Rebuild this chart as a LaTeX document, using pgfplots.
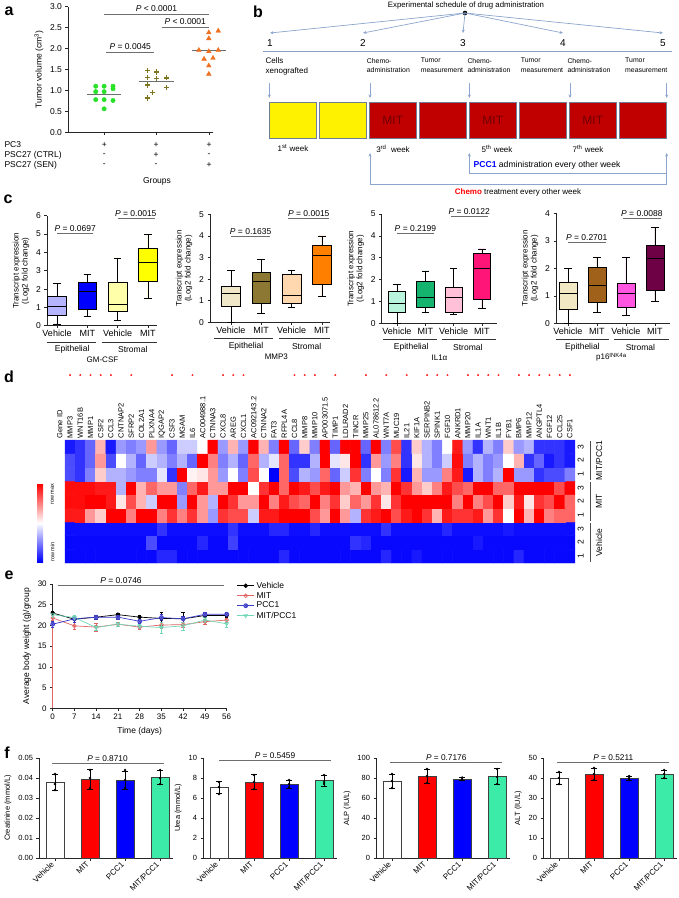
\documentclass[border=0pt]{standalone}
\usepackage{fontspec}
\setmainfont{Liberation Sans}
\usepackage{pgfplots}
\pgfplotsset{compat=1.18}
\usepackage{pgfplotstable}
\usepgfplotslibrary{statistics}
\usetikzlibrary{arrows.meta,plotmarks}

\newcommand{\fs}[2]{\fontsize{#1}{#2}\selectfont}

\definecolor{agreen}{RGB}{40,225,40}
\definecolor{aolive}{RGB}{125,118,30}
\definecolor{aorange}{RGB}{238,112,32}
\definecolor{meanc}{RGB}{110,110,110}
\definecolor{c11}{RGB}{180,180,255}
\definecolor{c12}{RGB}{0,0,255}
\definecolor{c13}{RGB}{255,255,170}
\definecolor{c14}{RGB}{255,255,0}
\definecolor{c21}{RGB}{240,230,200}
\definecolor{c22}{RGB}{140,120,50}
\definecolor{c23}{RGB}{255,216,176}
\definecolor{c24}{RGB}{255,128,0}
\definecolor{c31}{RGB}{184,245,220}
\definecolor{c32}{RGB}{20,180,110}
\definecolor{c33}{RGB}{255,192,216}
\definecolor{c34}{RGB}{255,20,120}
\definecolor{c41}{RGB}{242,232,196}
\definecolor{c42}{RGB}{160,98,26}
\definecolor{c43}{RGB}{255,85,224}
\definecolor{c44}{RGB}{110,0,70}
\definecolor{arrowc}{RGB}{140,165,205}
\definecolor{boxedge}{RGB}{110,125,150}
\definecolor{dred}{RGB}{192,0,0}
\definecolor{mitred}{RGB}{112,0,0}
\definecolor{emit}{RGB}{224,102,102}
\definecolor{epcc}{RGB}{59,59,200}
\definecolor{emp}{RGB}{112,216,184}
\definecolor{aqua}{RGB}{60,235,168}

\pgfplotsset{
  colormap={bwr}{rgb255=(0,0,255) rgb255=(255,255,255) rgb255=(255,0,0)},
  base/.style={scale only axis, anchor=south west, axis x line*=bottom, axis y line*=left, clip=false,
    axis line style={black!85, line width=0.6pt}, tick style={black!85, line width=0.6pt},
    tick align=outside, major tick length=2.5pt,
    tick label style={font=\fs{8.5}{10}}, label style={font=\fs{8.5}{10}},
    /pgf/number format/assume math mode=true, scaled ticks=false},
  cax/.style={base, ymin=0, xtick={1,2,3,4}, xticklabels={Vehicle,MIT,Vehicle,MIT},
    xticklabel style={font=\fs{9}{10}, inner sep=2pt},
    ylabel={Transcript expression\\(Log2 fold change)}, ylabel style={align=center, font=\fs{8}{9}}},
  bp/.style={draw=black, line width=0.6pt, solid, boxplot/draw direction=y, boxplot/box extend=0.62, boxplot/whisker extend=0.25},
  fax/.style={base, height=100pt, width=134pt, xmin=0.543, xmax=4.37, ymin=0, xtick={1,2,3,4},
    xticklabels={Vehicle,MIT,PCC1,MIT/PCC1}, xticklabel style={rotate=45, anchor=east, font=\fs{8}{9}},
    yticklabel style={font=\fs{7.5}{8}}, ylabel style={font=\fs{7.5}{9}}},
  fbar/.style={ybar, bar width=18pt, bar shift=0pt, draw=black!75, line width=0.6pt,
    /pgfplots/error bars/y dir=both, /pgfplots/error bars/y explicit,
    /pgfplots/error bars/error bar style={black, line width=0.7pt},
    /pgfplots/error bars/error mark options={rotate=90, mark size=3pt, line width=0.7pt, black}},
  pts/.style={only marks, mark=*, mark size=1pt, black},
  pbar/.style={meanc, line width=0.7pt, no marks},
  eerr/.style={/pgfplots/error bars/y dir=both, /pgfplots/error bars/y explicit,
    /pgfplots/error bars/error mark options={rotate=90, mark size=1.8pt}},
}

% heatmap values, row by row: Vehicle 1,2,3 ; MIT 1,2,3 ; MIT/PCC1 1,2,3 (bottom to top), 50 genes each
\pgfplotstableread[row sep=\\]{c\\
-0.97\\-0.97\\-0.97\\-0.97\\-0.97\\-0.97\\-0.97\\-0.97\\-0.97\\-0.85\\
-0.85\\-0.97\\-0.97\\-0.97\\-0.97\\-0.97\\-0.97\\-0.97\\-0.97\\-0.97\\
-0.97\\-0.85\\-0.97\\-0.97\\-0.97\\-0.97\\-0.97\\-0.97\\-0.97\\-0.97\\
-0.97\\-0.85\\-0.97\\-0.97\\-0.9\\-0.97\\-0.97\\-0.97\\-0.97\\-0.97\\
-0.97\\-0.97\\-0.97\\-0.97\\-0.85\\-0.97\\-0.97\\-0.97\\-0.97\\-0.97\\
-0.97\\-0.97\\-0.97\\-0.97\\-0.97\\-0.97\\-0.97\\-0.97\\-0.7\\-0.97\\
-0.97\\-0.97\\-0.97\\-0.85\\-0.97\\-0.97\\-0.75\\-0.97\\-0.97\\-0.97\\
-0.97\\-0.97\\-0.97\\-0.97\\-0.97\\-0.97\\-0.97\\-0.97\\-0.8\\-0.85\\
-0.97\\-0.97\\-0.97\\-0.97\\-0.97\\-0.97\\-0.97\\-0.97\\-0.97\\-0.97\\
-0.9\\-0.97\\-0.97\\-0.97\\-0.97\\-0.97\\-0.97\\-0.97\\-0.97\\-0.97\\
-0.95\\-0.95\\-0.95\\-0.95\\-0.95\\-0.95\\-0.95\\-0.95\\-0.95\\-0.8\\
-0.95\\-0.95\\-0.95\\-0.95\\-0.95\\-0.95\\-0.8\\-0.95\\-0.95\\-0.95\\
-0.85\\-0.85\\-0.95\\-0.95\\-0.85\\-0.95\\-0.95\\-0.95\\-0.95\\-0.95\\
-0.95\\-0.8\\-0.95\\-0.95\\-0.95\\-0.95\\-0.95\\-0.85\\-0.95\\-0.95\\
-0.95\\-0.95\\-0.95\\-0.9\\-0.95\\-0.95\\-0.95\\-0.95\\-0.95\\-0.95\\
0.9\\0.9\\0.4\\0.2\\1\\1\\0.5\\1\\1\\0.5\\
0.8\\0.5\\0.8\\0.4\\-0.4\\0.8\\0.7\\0.7\\-0.2\\0.9\\
0.9\\1\\1\\1\\0.7\\0.4\\1\\0.4\\-0.3\\0.8\\
0.9\\1\\0.7\\0.9\\1\\0.8\\0.3\\0.9\\0.8\\0.8\\
0.9\\0.4\\0.8\\0.0\\1\\0.3\\1\\0.5\\0.6\\0.6\\
0.95\\0.95\\1\\1\\0.9\\0.1\\0.7\\0.3\\-0.2\\1\\
1\\-0.4\\1\\0.4\\-0.3\\1\\0.8\\0.4\\0.4\\1\\
0.5\\0.9\\0.7\\0.6\\1\\0.5\\0.8\\0.2\\0.6\\0.4\\
0.8\\0.1\\0.8\\1\\1\\1\\1\\1\\0.5\\1\\
0.5\\0.7\\1\\0.2\\0.9\\0.1\\0.8\\0.7\\1\\0.6\\
0.95\\0.95\\0.95\\0.9\\0.9\\-0.3\\1\\0.3\\0.6\\0.4\\
0.4\\-0.5\\0.6\\0.9\\0.4\\0.4\\1\\1\\0.0\\0.8\\
1\\0.6\\1\\0.9\\0.7\\0.9\\1\\0.4\\0.3\\1\\
0.4\\0.3\\1\\0.8\\0.4\\0.2\\0.5\\0.9\\0.7\\0.6\\
1\\1\\0.6\\0.6\\1\\1\\1\\1\\0.7\\1\\
-0.7\\-0.8\\-0.5\\0.2\\-0.3\\-0.3\\-0.4\\-0.5\\-0.5\\-0.1\\
-0.8\\1\\0.05\\0.1\\0.4\\-0.4\\0.0\\-0.5\\0.7\\0.0\\
-1\\0.6\\-0.7\\-0.3\\-0.4\\0.6\\-0.6\\-0.2\\0.8\\-0.5\\
0.0\\-0.5\\0.8\\-0.9\\0.3\\-0.4\\-0.4\\0.5\\0.9\\-0.9\\
-0.3\\-0.5\\-0.3\\1\\-0.4\\-0.4\\-0.8\\-0.7\\-0.7\\-0.5\\
-0.7\\-0.8\\-0.6\\0.4\\-0.7\\0.0\\-0.3\\-0.6\\-0.2\\-0.3\\
-0.5\\-0.3\\-0.6\\1\\0.5\\-0.5\\-0.3\\-0.6\\0.6\\-0.3\\
-0.1\\0.6\\-0.8\\-0.8\\-0.3\\1\\-0.1\\0.1\\1\\-0.8\\
0.4\\-0.4\\0.5\\-0.8\\0.1\\-0.3\\-0.5\\-0.2\\0.95\\-0.5\\
-0.3\\-0.5\\-0.4\\0.0\\0.3\\-0.8\\-0.6\\-0.9\\-0.8\\-0.9\\
-0.9\\-0.8\\-0.6\\0.3\\-0.9\\-0.4\\-0.5\\-0.4\\0.4\\-0.4\\
-0.6\\-0.2\\-0.2\\0.0\\1\\-0.4\\0.3\\-0.4\\1\\0.3\\
-0.5\\1\\-0.6\\0.2\\-0.5\\1\\-0.6\\1\\1\\-0.6\\
1\\-0.5\\0.7\\-0.8\\0.2\\-0.3\\-0.5\\0.0\\0.9\\-0.4\\
-0.8\\-0.3\\-0.5\\0.2\\-0.4\\-0.3\\-0.8\\-0.8\\-0.8\\-0.9\\
}\heat
% row / column position of each cell (gene index 0..49, sample row 0..8)
\pgfplotstablecreatecol[create col/assign/.code={%
  \edef\entry{\the\numexpr(2*\pgfplotstablerow-49)/100\relax}%
  \pgfkeyslet{/pgfplots/table/create col/next content}\entry}]{yy}{\heat}
\pgfplotstablecreatecol[create col/assign/.code={%
  \edef\entry{\the\numexpr\pgfplotstablerow-50*((2*\pgfplotstablerow-49)/100)\relax}%
  \pgfkeyslet{/pgfplots/table/create col/next content}\entry}]{xx}{\heat}

\begin{document}
\begin{tikzpicture}
\useasboundingbox (0,0) rectangle (679pt,-898pt);

% ---------------- labels, schematic, annotations (px coordinates, y downward)
\begin{scope}[x=1pt,y=-1pt]
\node[font=\fs{16}{18}\bfseries] at (9,11) {a};
\node[font=\fs{16}{18}\bfseries] at (258,12) {b};
\node[font=\fs{16}{18}\bfseries] at (8,199) {c};
\node[font=\fs{16}{18}\bfseries] at (9,377) {d};
\node[font=\fs{16}{18}\bfseries] at (9,575) {e};
\node[font=\fs{16}{18}\bfseries] at (7,753) {f};

% panel a row labels
\node[anchor=west, font=\fs{8.5}{10}] at (1,145) {PC3};
\node[anchor=west, font=\fs{8.5}{10}] at (1,155.3) {PSC27 (CTRL)};
\node[anchor=west, font=\fs{8.5}{10}] at (1,165.5) {PSC27 (SEN)};
\foreach \xx/\sa/\sb/\sc in {104.3/+/-/-, 156/+/+/-, 209/+/-/+}{
  \node[font=\fs{8.5}{10}] at (\xx,145) {\sa};
  \node[font=\fs{8.5}{10}] at (\xx,155.3) {\sb};
  \node[font=\fs{8.5}{10}] at (\xx,165.5) {\sc};
}
\node[font=\fs{8.5}{10}] at (157,181) {Groups};

% panel b schematic
\node[font=\fs{7.8}{9}] at (466,5) {Experimental schedule of drug administration};
\fill (465,13) circle (2.3pt);
\foreach \xx in {270,363,463,563,663}
  \draw[arrowc, line width=0.7pt, -{Stealth[length=3.5pt,width=3pt]}] (465,13) -- (\xx,33);
\foreach \xx/\n in {270/1,363/2,463/3,563/4,663/5}
  \node[font=\fs{10}{11}] at (\xx,43.5) {\n};
\draw[arrowc!80!gray, line width=0.8pt] (263,51) -- (672,51);
\node[anchor=north west, align=left, font=\fs{8}{10}, inner sep=0pt] at (265.5,57) {Cells\\xenografted};
\foreach \xx/\ta/\tb in {366.7/Chemo-/administration, 420.7/Tumor/measurement, 467.3/Chemo-/administration,
                         520.7/Tumor/measurement, 567.3/Chemo-/administration, 625/Tumor/measurement}
  \node[anchor=north west, align=left, font=\fs{6.9}{9.5}, inner sep=0pt] at (\xx,58) {\ta\\\tb};
\foreach \xx in {269.3,370,469.3,570,666.7}
  \draw[arrowc, line width=0.7pt, -{Stealth[length=3.5pt,width=3pt]}] (\xx,83) -- (\xx,98);
\foreach \xx in {269.3,319.3}
  \draw[boxedge, line width=0.8pt, fill=yellow] (\xx,102) rectangle ++(47,36);
\foreach \xx in {369.3,419.3,469.3,519.3,569.3,619.3}
  \draw[boxedge, line width=0.8pt, fill=dred] (\xx,102) rectangle ++(47,36);
\foreach \xx in {392.8,492.8,592.8}
  \node[font=\fs{12}{13}, text=mitred] at (\xx,120) {MIT};
\node[font=\fs{8}{9}] at (293,148.5) {1\textsuperscript{st} week};
\node[font=\fs{8}{9}] at (393,148.5) {3\textsuperscript{rd}\ \ week};
\node[font=\fs{8}{9}] at (497,148.5) {5\textsuperscript{th} week};
\node[font=\fs{8}{9}] at (588,148.5) {7\textsuperscript{th} week};
\draw[arrowc, line width=0.7pt, -{Stealth[length=3.5pt,width=3pt]}] (469.3,173) -- (469.3,153);
\draw[arrowc, line width=0.7pt, -{Stealth[length=3.5pt,width=3pt]}] (666.7,184) -- (666.7,153);
\draw[arrowc, line width=0.7pt] (469.3,173) -- (666.7,173);
\draw[arrowc, line width=0.7pt, -{Stealth[length=3.5pt,width=3pt]}] (370,184) -- (370,153);
\draw[arrowc, line width=0.7pt] (370,184) -- (666.7,184);
\node[font=\fs{8.6}{10}] at (547,165) {{\color{blue}\bfseries PCC1} administration every other week};
\node[font=\fs{8}{9}] at (518,192.5) {{\color{red}\bfseries Chemo} treatment every other week};

% panel d colour key
\shade[top color=red, bottom color=blue, middle color=white] (37,484) rectangle (43,562);
\node[rotate=90, font=\fs{5.5}{6}] at (52.5,494) {row max};
\node[rotate=90, font=\fs{5.5}{6}] at (52.5,552) {row min};
\end{scope}

% ---------------- panel a
\begin{axis}[base, at={(68pt,-132.3pt)}, width=145pt, height=125.7pt,
  xmin=0.31, xmax=3.08, ymin=0, ymax=3, xtick={1,2,3}, xticklabels={},
  ytick={0,0.5,1,1.5,2,2.5,3},
  yticklabel style={/pgf/number format/fixed, /pgf/number format/fixed zerofill, /pgf/number format/precision=1},
  ylabel={Tumor volume (cm\textsuperscript{3})}]
\addplot[only marks, mark=*, mark size=2.2pt, color=agreen] coordinates {
  (0.84,1.10) (1,1.10) (1.17,1.10) (1.17,1.04) (0.84,0.97) (1,0.97) (0.84,0.78) (1,0.78) (1.17,0.76) (1,0.56)};
\addplot[only marks, mark=+, mark size=2.6pt, line width=1.5pt, color=aolive] coordinates {
  (1.83,1.47) (2,1.44) (1.83,1.31) (2.19,1.30) (2,1.29) (1.83,1.13) (2.19,1.07) (1.92,0.95) (1.83,0.82)};
\addplot[only marks, mark=triangle*, mark size=2.7pt, color=aorange] coordinates {
  (3,2.38) (3.18,2.42) (3,2.24) (2.81,1.96) (3,1.93) (3.18,1.96) (2.91,1.75) (3.08,1.77) (3,1.59) (3,1.39)};
\addplot[meanc, line width=0.9pt, no marks] coordinates {(0.67,0.91) (1.33,0.91)};
\addplot[meanc, line width=0.9pt, no marks] coordinates {(1.67,1.21) (2.33,1.21)};
\addplot[meanc, line width=0.9pt, no marks] coordinates {(2.67,1.95) (3.33,1.95)};
\addplot[pbar] coordinates {(1,2.82) (3,2.82)};
\addplot[pbar] coordinates {(2.1,2.51) (3,2.51)};
\addplot[pbar] coordinates {(1.04,1.91) (1.96,1.91)};
\node[anchor=south, inner sep=2pt, font=\fs{8.5}{10}] at (axis cs:2,2.82) {\textit{P} < 0.0001};
\node[anchor=south, inner sep=2pt, font=\fs{8.5}{10}] at (axis cs:2.55,2.51) {\textit{P} < 0.0001};
\node[anchor=south, inner sep=2pt, font=\fs{8.5}{10}] at (axis cs:1.5,1.91) {\textit{P} = 0.0045};
\end{axis}

% ---------------- panel c (1) GM-CSF
\begin{axis}[cax, at={(47pt,-325.7pt)}, width=110pt, height=110pt, xmin=0.67, xmax=4.3, ymax=6, ytick={0,1,2,3,4,5,6}]
\addplot[bp, fill=c11, boxplot prepared={draw position=1, lower whisker=0.1, lower quartile=0.58, median=1.05, upper quartile=1.6, upper whisker=2.3}] coordinates {};
\addplot[bp, fill=c12, boxplot prepared={draw position=2, lower whisker=0.5, lower quartile=0.92, median=1.9, upper quartile=2.35, upper whisker=2.8}] coordinates {};
\addplot[bp, fill=c13, boxplot prepared={draw position=3, lower whisker=0.3, lower quartile=0.8, median=1.15, upper quartile=2.38, upper whisker=3.7}] coordinates {};
\addplot[bp, fill=c14, boxplot prepared={draw position=4, lower whisker=1.5, lower quartile=2.42, median=3.45, upper quartile=4.22, upper whisker=5.0}] coordinates {};
\addplot[pbar] coordinates {(1,5.03) (2.2,5.03)};
\addplot[pbar] coordinates {(3,5.85) (4.25,5.85)};
\node[anchor=south, inner sep=2pt, font=\fs{8.5}{10}] at (axis cs:1.6,5.03) {\textit{P} = 0.0697};
\node[anchor=south, inner sep=2pt, font=\fs{8.5}{10}] at (axis cs:3.6,5.85) {\textit{P} = 0.0015};
\draw[black!80, line width=0.6pt] ([yshift=-16.5pt]axis cs:0.67,0) -- ([yshift=-16.5pt]axis cs:2.3,0);
\draw[black!80, line width=0.6pt] ([yshift=-16.5pt]axis cs:2.47,0) -- ([yshift=-16.5pt]axis cs:4.3,0);
\node[font=\fs{8.5}{10}] at ([yshift=-24pt]axis cs:1.5,0) {Epithelial};
\node[font=\fs{8.5}{10}] at ([yshift=-24pt]axis cs:3.5,0) {Stromal};
\node[font=\fs{8}{10}] at ([yshift=-34pt]axis cs:2.5,0) {GM-CSF};
\end{axis}

% ---------------- panel c (2) MMP3
\begin{axis}[cax, at={(210pt,-322.3pt)}, width=119.7pt, height=108pt, xmin=0.31, xmax=4.26, ymax=5, ytick={0,1,2,3,4,5}]
\addplot[bp, fill=c21, boxplot prepared={draw position=1, lower whisker=0.0, lower quartile=0.72, median=1.35, upper quartile=1.65, upper whisker=2.4}] coordinates {};
\addplot[bp, fill=c22, boxplot prepared={draw position=2, lower whisker=0.4, lower quartile=0.9, median=1.9, upper quartile=2.3, upper whisker=2.9}] coordinates {};
\addplot[bp, fill=c23, boxplot prepared={draw position=3, lower whisker=0.7, lower quartile=0.88, median=1.25, upper quartile=2.2, upper whisker=2.4}] coordinates {};
\addplot[bp, fill=c24, boxplot prepared={draw position=4, lower whisker=1.2, lower quartile=1.75, median=3.1, upper quartile=3.55, upper whisker=4.0}] coordinates {};
\addplot[pbar] coordinates {(1,3.97) (2.3,3.97)};
\addplot[pbar] coordinates {(2.9,4.8) (4.25,4.8)};
\node[anchor=south, inner sep=2pt, font=\fs{8.5}{10}] at (axis cs:1.65,3.97) {\textit{P} = 0.1635};
\node[anchor=south, inner sep=2pt, font=\fs{8.5}{10}] at (axis cs:3.57,4.8) {\textit{P} = 0.0015};
\draw[black!80, line width=0.6pt] ([yshift=-16pt]axis cs:0.45,0) -- ([yshift=-16pt]axis cs:2.4,0);
\draw[black!80, line width=0.6pt] ([yshift=-16pt]axis cs:2.6,0) -- ([yshift=-16pt]axis cs:4.26,0);
\node[font=\fs{8.5}{10}] at ([yshift=-24pt]axis cs:1.5,0) {Epithelial};
\node[font=\fs{8.5}{10}] at ([yshift=-24pt]axis cs:3.5,0) {Stromal};
\node[font=\fs{8}{10}] at ([yshift=-34pt]axis cs:2.5,0) {MMP3};
\end{axis}

% ---------------- panel c (3) IL1a
\begin{axis}[cax, at={(381.7pt,-323.3pt)}, width=115pt, height=109.3pt, xmin=0.46, xmax=4.52, ymax=5, ytick={0,1,2,3,4,5}]
\addplot[bp, fill=c31, boxplot prepared={draw position=1, lower whisker=0.0, lower quartile=0.52, median=0.9, upper quartile=1.45, upper whisker=1.8}] coordinates {};
\addplot[bp, fill=c32, boxplot prepared={draw position=2, lower whisker=0.5, lower quartile=0.75, median=1.2, upper quartile=1.9, upper whisker=2.4}] coordinates {};
\addplot[bp, fill=c33, boxplot prepared={draw position=3, lower whisker=0.4, lower quartile=0.5, median=1.2, upper quartile=1.65, upper whisker=2.5}] coordinates {};
\addplot[bp, fill=c34, boxplot prepared={draw position=4, lower whisker=0.7, lower quartile=1.08, median=2.5, upper quartile=3.2, upper whisker=3.4}] coordinates {};
\addplot[pbar] coordinates {(1,4.1) (2.3,4.1)};
\addplot[pbar] coordinates {(2.9,4.88) (4.2,4.88)};
\node[anchor=south, inner sep=2pt, font=\fs{8.5}{10}] at (axis cs:1.65,4.1) {\textit{P} = 0.2199};
\node[anchor=south, inner sep=2pt, font=\fs{8.5}{10}] at (axis cs:3.55,4.88) {\textit{P} = 0.0122};
\draw[black!80, line width=0.6pt] ([yshift=-16pt]axis cs:0.5,0) -- ([yshift=-16pt]axis cs:2.4,0);
\draw[black!80, line width=0.6pt] ([yshift=-16pt]axis cs:2.6,0) -- ([yshift=-16pt]axis cs:4.5,0);
\node[font=\fs{8.5}{10}] at ([yshift=-24pt]axis cs:1.5,0) {Epithelial};
\node[font=\fs{8.5}{10}] at ([yshift=-24pt]axis cs:3.5,0) {Stromal};
\node[font=\fs{8}{10}] at ([yshift=-34pt]axis cs:2.5,0) {IL1α};
\end{axis}

% ---------------- panel c (4) p16
\begin{axis}[cax, at={(556pt,-323.3pt)}, width=114pt, height=110pt, xmin=0.59, xmax=4.52, ymax=4, ytick={0,1,2,3,4}]
\addplot[bp, fill=c41, boxplot prepared={draw position=1, lower whisker=0.0, lower quartile=0.5, median=1.1, upper quartile=1.5, upper whisker=2.0}] coordinates {};
\addplot[bp, fill=c42, boxplot prepared={draw position=2, lower whisker=0.4, lower quartile=0.75, median=1.4, upper quartile=2.05, upper whisker=2.4}] coordinates {};
\addplot[bp, fill=c43, boxplot prepared={draw position=3, lower whisker=0.3, lower quartile=0.6, median=1.1, upper quartile=1.45, upper whisker=2.4}] coordinates {};
\addplot[bp, fill=c44, boxplot prepared={draw position=4, lower whisker=0.8, lower quartile=1.2, median=2.35, upper quartile=2.85, upper whisker=3.5}] coordinates {};
\addplot[pbar] coordinates {(1,2.93) (2.3,2.93)};
\addplot[pbar] coordinates {(2.9,3.8) (4.2,3.8)};
\node[anchor=south, inner sep=2pt, font=\fs{8.5}{10}] at (axis cs:1.65,2.93) {\textit{P} = 0.2701};
\node[anchor=south, inner sep=2pt, font=\fs{8.5}{10}] at (axis cs:3.55,3.8) {\textit{P} = 0.0088};
\draw[black!80, line width=0.6pt] ([yshift=-16pt]axis cs:0.6,0) -- ([yshift=-16pt]axis cs:2.4,0);
\draw[black!80, line width=0.6pt] ([yshift=-16pt]axis cs:2.6,0) -- ([yshift=-16pt]axis cs:4.5,0);
\node[font=\fs{8.5}{10}] at ([yshift=-24pt]axis cs:1.5,0) {Epithelial};
\node[font=\fs{8.5}{10}] at ([yshift=-24pt]axis cs:3.5,0) {Stromal};
\node[font=\fs{8}{10}] at ([yshift=-34pt]axis cs:2.5,0) {p16\textsuperscript{INK4a}};
\end{axis}

% ---------------- panel d heatmap
\begin{axis}[scale only axis, anchor=south west, at={(54.8pt,-563pt)}, width=520.2pt, height=123pt,
  xmin=-1.5, xmax=49.5, ymin=-0.5, ymax=8.5, clip=false, enlargelimits=false,
  axis line style={draw=none}, tick style={draw=none}, major tick length=0pt,
  colormap name=bwr, point meta min=-1, point meta max=1,
  xtick={-1,0,...,49},
  xticklabels={Gene ID,MMP3,WNT16B,MMP1,CSF2,CCL3,CNTNAP2,SFRP2,COL2A1,PLXNA4,IQGAP2,CSF3,MGAM,IL6,AC004988.1,CTNNA3,CXCL8,AREG,CXCL1,AC092143.2,CTNNA2,FAT3,RFPL4A,CCL8,MMP8,MMP10,AP003071.5,TIMP1,LDLRAD2,TINCR,MMP25,AL078612.2,WNT7A,MUC19,IL21,KIF1A,SERPINB2,SPINK1,FGF10,ANKRD1,MMP20,IL1A,WNT1,IL1B,FYB1,BMP6,MMP12,ANGPTL4,FGF12,CCL25,CSF1},
  xticklabel pos=upper, xticklabel style={rotate=90, anchor=west, font=\fs{7.5}{8}, inner sep=1.5pt},
  ytick={0,...,8}, yticklabels={1,2,3,1,2,3,1,2,3}, yticklabel pos=upper,
  yticklabel style={rotate=90, anchor=north, font=\fs{8.5}{9}, inner sep=2.5pt},
  /pgf/number format/assume math mode=true]
\addplot[matrix plot*, mesh/cols=50, point meta=explicit]
  table[x=xx, y=yy, meta=c] {\heat};
\addplot[only marks, mark=*, mark size=0.8pt, color=red!85] coordinates {
  (0,13.25) (1,13.25) (2,13.25) (3,13.25) (4,13.25) (6,13.25) (10,13.25) (12,13.25) (15,13.25) (16,13.25)
  (17,13.25) (22,13.25) (23,13.25) (24,13.25) (26,13.25) (29,13.25) (31,13.25) (33,13.25) (35,13.25) (36,13.25)
  (37,13.25) (39,13.25) (40,13.25) (41,13.25) (42,13.25) (44,13.25) (45,13.25) (46,13.25) (47,13.25) (48,13.25) (49,13.25)};
\draw[black!70, line width=0.6pt] (axis cs:51.0,5.6) -- (axis cs:51.0,8.4);
\draw[black!70, line width=0.6pt] (axis cs:51.0,2.6) -- (axis cs:51.0,5.4);
\draw[black!70, line width=0.6pt] (axis cs:51.0,-0.4) -- (axis cs:51.0,2.4);
\node[rotate=90, font=\fs{8.5}{9}] at (axis cs:51.85,7) {MIT/PCC1};
\node[rotate=90, font=\fs{8.5}{9}] at (axis cs:51.85,4) {MIT};
\node[rotate=90, font=\fs{8.5}{9}] at (axis cs:51.85,1) {Vehicle};
\end{axis}

% ---------------- panel e
\begin{axis}[base, at={(52.7pt,-708.3pt)}, width=174pt, height=124.3pt,
  xmin=0, xmax=56, ymin=0, ymax=30, xtick={0,7,14,21,28,35,42,49,56}, ytick={0,5,10,15,20,25,30},
  tick label style={font=\fs{8}{9}},
  xlabel={Time (days)}, ylabel={Average body weight (g)/group},
  legend style={at={(1.04,1.05)}, anchor=north west, draw=none, fill=none, font=\fs{8.5}{10}, row sep=-1.5pt},
  legend cell align=left]
\addplot[emit, line width=0.7pt, no marks, forget plot] coordinates {(0,0) (0,21.8)};
\addplot[black, line width=0.7pt, mark=*, mark size=1.9pt, eerr] coordinates {
  (0,23.0) +- (0,0.5) (7,21.5) +- (0,0.6) (14,22.0) +- (0,0.4) (21,22.6) +- (0,0.4) (28,22.0) +- (0,0.5)
  (35,21.7) +- (0,1.6) (42,21.6) +- (0,1.6) (49,22.4) +- (0,0.5) (56,22.4) +- (0,0.5)};
\addlegendentry{Vehicle}
\addplot[emit, line width=0.7pt, mark=o, mark size=1.9pt, mark options={fill=white}, eerr] coordinates {
  (0,21.8) +- (0,0.6) (7,19.9) +- (0,0.8) (14,19.6) +- (0,0.9) (21,20.3) +- (0,0.6) (28,19.6) +- (0,0.6)
  (35,20.1) +- (0,0.7) (42,20.2) +- (0,0.7) (49,20.9) +- (0,0.6) (56,21.3) +- (0,0.5)};
\addlegendentry{MIT}
\addplot[epcc, line width=0.7pt, mark=otimes*, mark size=2pt, mark options={fill=epcc!50}, eerr] coordinates {
  (0,20.3) +- (0,0.7) (7,21.6) +- (0,0.8) (14,22.0) +- (0,0.5) (21,22.0) +- (0,0.5) (28,21.0) +- (0,0.5)
  (35,21.9) +- (0,0.7) (42,21.6) +- (0,0.7) (49,22.7) +- (0,0.4) (56,22.7) +- (0,0.4)};
\addlegendentry{PCC1}
\addplot[emp, line width=0.7pt, mark=triangle, mark size=2pt, mark options={rotate=180}, eerr] coordinates {
  (0,22.6) +- (0,0.5) (7,21.9) +- (0,0.6) (14,19.5) +- (0,0.6) (21,20.3) +- (0,0.6) (28,19.8) +- (0,0.5)
  (35,19.5) +- (0,1.4) (42,19.9) +- (0,1.0) (49,21.3) +- (0,0.6) (56,20.4) +- (0,0.8)};
\addlegendentry{MIT/PCC1}
\addplot[pbar, forget plot] coordinates {(1.8,29.7) (55,29.7)};
\node[anchor=south, inner sep=1.5pt, font=\fs{8.5}{10}] at (axis cs:22,29.7) {\textit{P} = 0.0746};
\end{axis}

% ---------------- panel f (1) Creatinine
\begin{axis}[fax, at={(39pt,-858pt)}, ymax=0.05, ytick={0,0.01,0.02,0.03,0.04,0.05},
  yticklabel style={/pgf/number format/fixed, /pgf/number format/fixed zerofill, /pgf/number format/precision=2},
  ylabel={Creatinine (mmol/L)}]
\addplot[fill=white, fbar] coordinates {(1,0.0377) +- (0,0.004)};
\addplot[fill=red, fbar] coordinates {(2,0.0395) +- (0,0.005)};
\addplot[fill=blue, fbar] coordinates {(3,0.039) +- (0,0.0045)};
\addplot[fill=aqua, fbar] coordinates {(4,0.0403) +- (0,0.0035)};
\addplot[pts] coordinates {(1,0.042) (1,0.037) (1,0.034) (2,0.044) (2,0.040) (2,0.035) (3,0.044) (3,0.039) (3,0.035) (4,0.044) (4,0.040) (4,0.037)};
\addplot[pbar] coordinates {(0.92,0.0475) (4.1,0.0475)};
\node[anchor=south, inner sep=1.5pt, font=\fs{8.3}{9}] at (axis cs:2.5,0.0475) {\textit{P} = 0.8710};
\end{axis}

% ---------------- panel f (2) Urea
\begin{axis}[fax, at={(203pt,-858pt)}, ymax=10, ytick={0,2,4,6,8,10}, ylabel={Urea (mmol/L)}]
\addplot[fill=white, fbar] coordinates {(1,7.05) +- (0,0.6)};
\addplot[fill=red, fbar] coordinates {(2,7.6) +- (0,0.75)};
\addplot[fill=blue, fbar] coordinates {(3,7.4) +- (0,0.4)};
\addplot[fill=aqua, fbar] coordinates {(4,7.75) +- (0,0.55)};
\addplot[pts] coordinates {(1,7.6) (1,7.1) (1,6.4) (2,8.3) (2,7.6) (2,6.9) (3,7.8) (3,7.4) (3,7.1) (4,8.3) (4,7.6) (4,7.4)};
\addplot[pbar] coordinates {(1.0,9.75) (4.2,9.75)};
\node[anchor=south, inner sep=1.5pt, font=\fs{8.3}{9}] at (axis cs:2.6,9.75) {\textit{P} = 0.5459};
\end{axis}

% ---------------- panel f (3) ALP
\begin{axis}[fax, at={(376pt,-858pt)}, ymax=100, ytick={0,20,40,60,80,100}, ylabel={ALP (IU/L)}]
\addplot[fill=white, fbar] coordinates {(1,77) +- (0,7)};
\addplot[fill=red, fbar] coordinates {(2,82) +- (0,7)};
\addplot[fill=blue, fbar] coordinates {(3,79) +- (0,1.5)};
\addplot[fill=aqua, fbar] coordinates {(4,81.5) +- (0,8)};
\addplot[pts] coordinates {(1,84) (1,77) (1,70) (2,89) (2,82) (2,75) (3,80.5) (3,79) (3,78) (4,89) (4,81) (4,74)};
\addplot[pbar] coordinates {(0.95,96) (4.15,96)};
\node[anchor=south, inner sep=1.5pt, font=\fs{8.3}{9}] at (axis cs:2.55,96) {\textit{P} = 0.7176};
\end{axis}

% ---------------- panel f (4) ALT
\begin{axis}[fax, at={(543pt,-858pt)}, ymax=50, ytick={0,10,20,30,40,50}, ylabel={ALT (IU/L)}]
\addplot[fill=white, fbar] coordinates {(1,39.8) +- (0,3)};
\addplot[fill=red, fbar] coordinates {(2,42) +- (0,3)};
\addplot[fill=blue, fbar] coordinates {(3,40) +- (0,1)};
\addplot[fill=aqua, fbar] coordinates {(4,42) +- (0,2)};
\addplot[pts] coordinates {(1,43) (1,40) (1,37) (2,45) (2,42) (2,39) (3,41) (3,40) (3,39) (4,44) (4,42) (4,40)};
\addplot[pbar] coordinates {(0.95,48) (4.15,48)};
\node[anchor=south, inner sep=1.5pt, font=\fs{8.3}{9}] at (axis cs:2.55,48) {\textit{P} = 0.5211};
\end{axis}
\end{tikzpicture}
\end{document}
